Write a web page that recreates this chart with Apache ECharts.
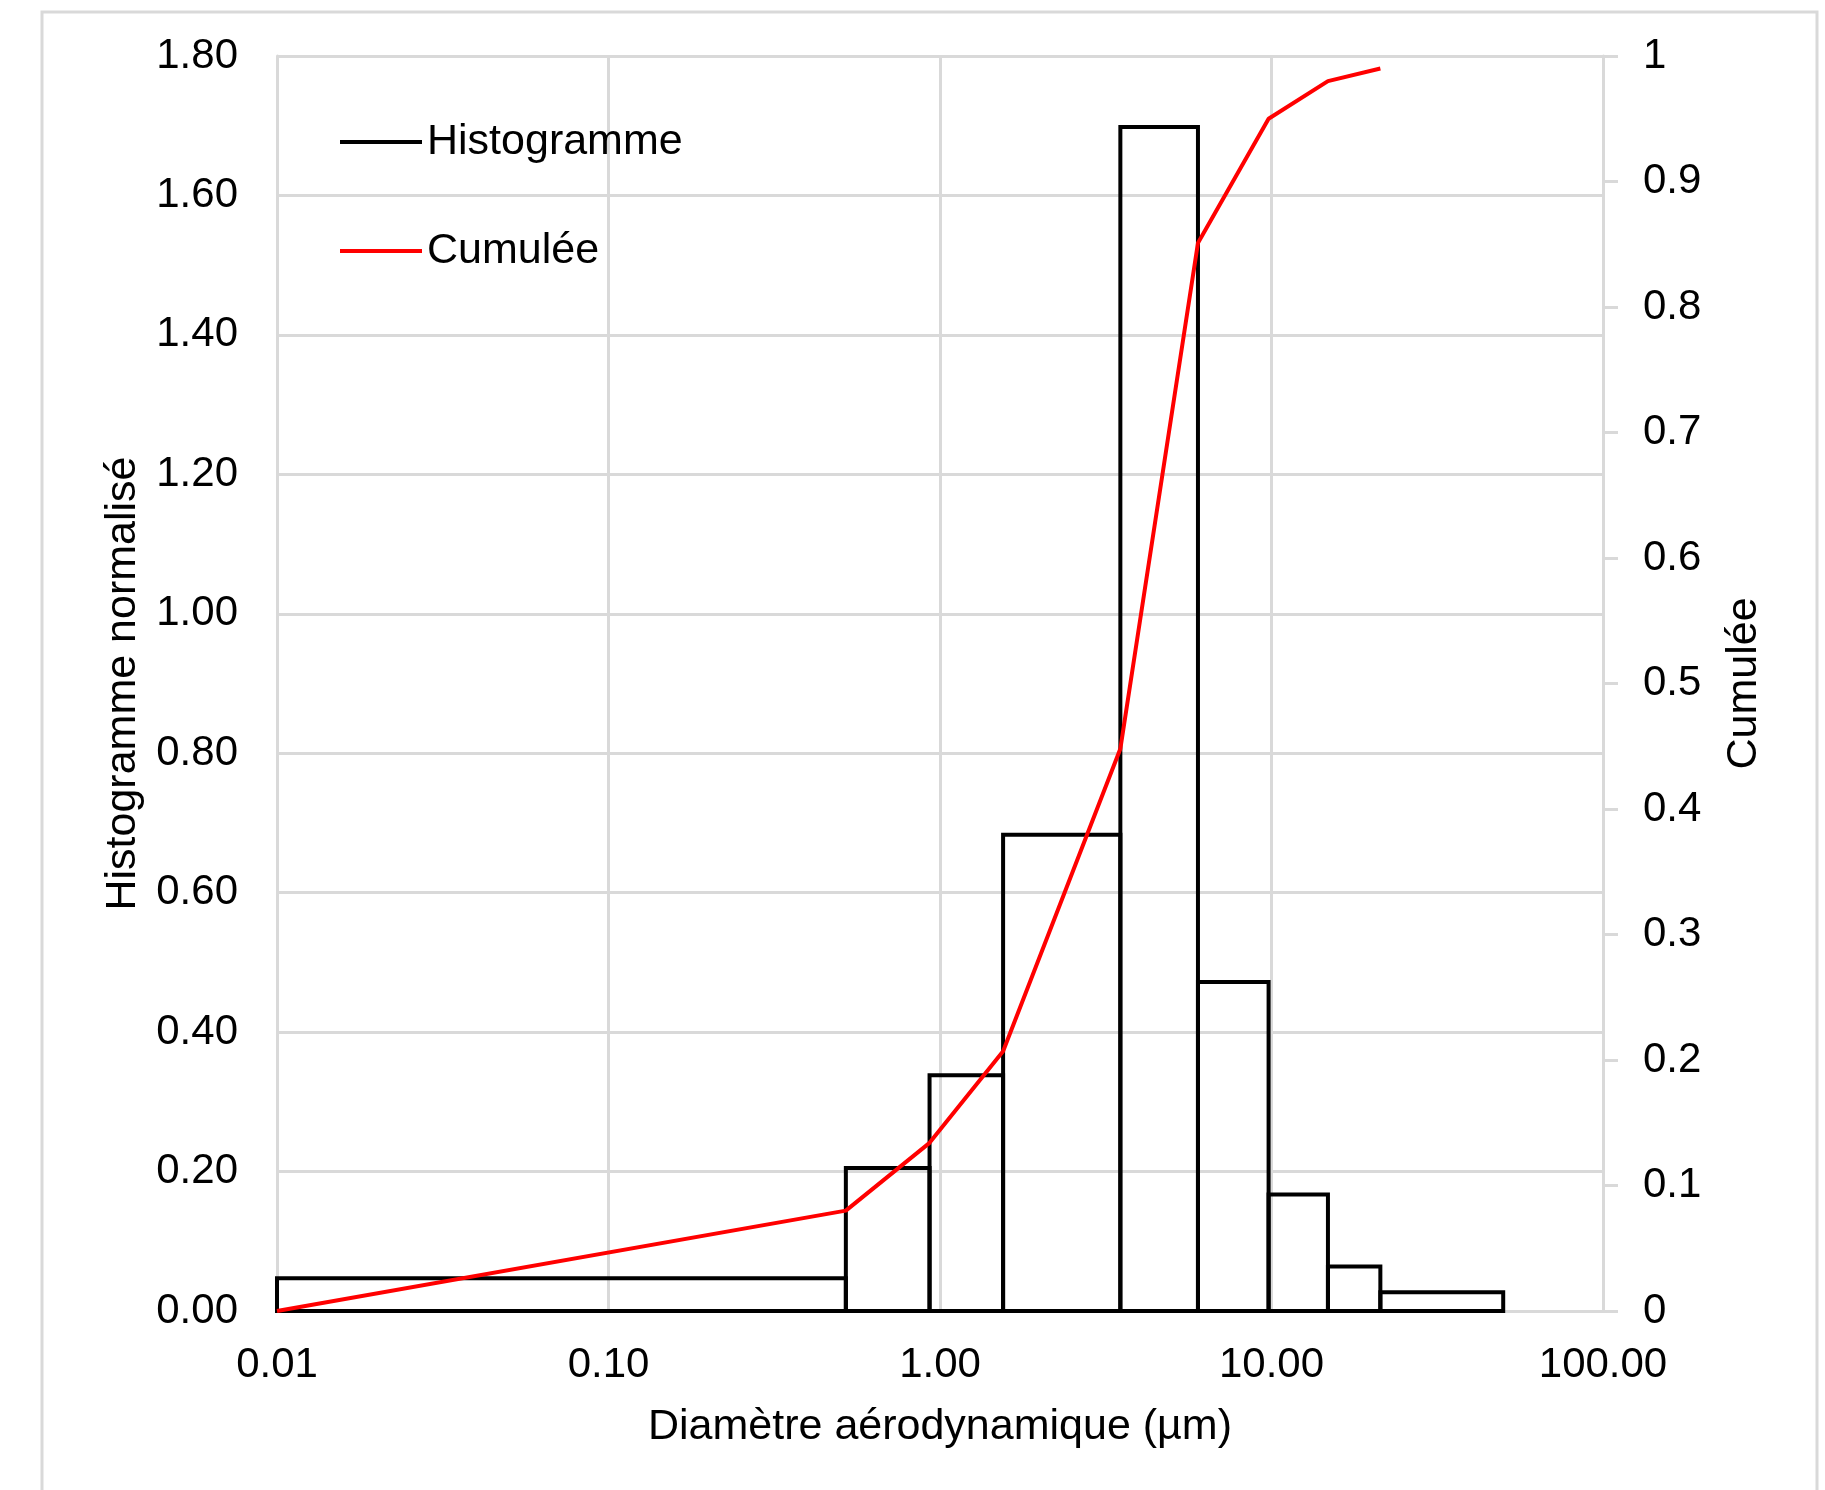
<!DOCTYPE html>
<html>
<head>
<meta charset="utf-8">
<title>Histogramme normalisé et cumulée</title>
<script src="https://cdn.jsdelivr.net/npm/echarts@6/dist/echarts.min.js"></script>
<style>
  html, body { margin: 0; padding: 0; background: #ffffff; }
  #chart { width: 1825px; height: 1490px; }
</style>
</head>
<body>
<div id="chart"></div>
<script>
// Impactor stage boundaries (µm) and normalised histogram height per stage
const binEdges = [0.01, 0.52, 0.93, 1.55, 3.5, 6.0, 9.8, 14.8, 21.3, 50];
const histValues = [0.047, 0.205, 0.338, 0.683, 1.698, 0.472, 0.167, 0.064, 0.027];

// Cumulative fraction at each stage boundary
const cumulSizes = [0.01, 0.52, 0.93, 1.55, 3.5, 6.0, 9.8, 14.8, 21.3];
const cumulValues = [0, 0.080, 0.134, 0.207, 0.448, 0.851, 0.950, 0.980, 0.990];

// Axis tick values
const xTicks = [0.01, 0.1, 1, 10, 100];
const leftTicks = [0, 0.2, 0.4, 0.6, 0.8, 1.0, 1.2, 1.4, 1.6, 1.8];
const rightTicks = [0, 0.1, 0.2, 0.3, 0.4, 0.5, 0.6, 0.7, 0.8, 0.9, 1];

const FONT = "'Liberation Sans', Arial, sans-serif";
const GRID = '#d9d9d9';
const TXT = '#000000';

const histData = histValues.map((h, i) => [binEdges[i], binEdges[i + 1], h]);
const cumulData = cumulSizes.map((x, i) => [x, cumulValues[i]]);

const chart = echarts.init(document.getElementById('chart'), null, { renderer: 'canvas' });

chart.setOption({
  animation: false,
  backgroundColor: '#ffffff',
  textStyle: { fontFamily: FONT },
  graphic: [{
    type: 'rect',
    silent: true,
    z: -10,
    shape: { x: 42, y: 12, width: 1775, height: 1520 },
    style: { fill: 'none', stroke: GRID, lineWidth: 3 }
  }],
  grid: { left: 277, right: 222, top: 56, bottom: 179, containLabel: false },
  legend: {
    orient: 'vertical',
    left: 335,
    top: 112,
    itemWidth: 82,
    itemHeight: 4,
    itemGap: 59,
    selectedMode: false,
    textStyle: { fontSize: 43, color: TXT, fontFamily: FONT, lineHeight: 50 },
    data: [
      { name: 'Histogramme', icon: 'rect', itemStyle: { color: '#000000' } },
      { name: 'Cumulée', icon: 'rect', itemStyle: { color: '#ff0000' } }
    ]
  },
  xAxis: {
    type: 'log',
    logBase: 10,
    min: xTicks[0],
    max: xTicks[xTicks.length - 1],
    axisLine: { show: true, lineStyle: { color: GRID, width: 3 } },
    axisTick: { show: false },
    splitLine: { show: true, lineStyle: { color: GRID, width: 3 } },
    axisLabel: {
      margin: 33,
      fontSize: 42,
      color: TXT,
      fontFamily: FONT,
      formatter: v => Number(v).toFixed(2)
    },
    name: 'Diamètre aérodynamique (µm)',
    nameLocation: 'middle',
    nameGap: 95,
    nameTextStyle: { fontSize: 43, color: TXT, fontFamily: FONT }
  },
  yAxis: [{
    type: 'value',
    min: leftTicks[0],
    max: leftTicks[leftTicks.length - 1],
    interval: 0.2,
    position: 'left',
    axisLine: { show: true, lineStyle: { color: GRID, width: 3 } },
    axisTick: { show: false },
    splitLine: { show: true, lineStyle: { color: GRID, width: 3 } },
    axisLabel: {
      margin: 39,
      fontSize: 42,
      color: TXT,
      fontFamily: FONT,
      formatter: v => Number(v).toFixed(2)
    },
    name: 'Histogramme normalisé',
    nameLocation: 'middle',
    nameGap: 132,
    nameTextStyle: { fontSize: 43, color: TXT, fontFamily: FONT }
  }, {
    type: 'value',
    min: rightTicks[0],
    max: rightTicks[rightTicks.length - 1],
    interval: 0.1,
    position: 'right',
    axisLine: { show: true, lineStyle: { color: GRID, width: 3 } },
    axisTick: { show: true, length: 15, lineStyle: { color: GRID, width: 3 } },
    splitLine: { show: false },
    axisLabel: {
      margin: 40,
      fontSize: 42,
      color: TXT,
      fontFamily: FONT,
      formatter: v => (v === 0 || v === 1) ? String(v) : Number(v).toFixed(1)
    },
    name: 'Cumulée',
    nameLocation: 'middle',
    nameGap: 120,
    nameRotate: 90,
    nameTextStyle: { fontSize: 43, color: TXT, fontFamily: FONT }
  }],
  series: [{
    name: 'Histogramme',
    type: 'custom',
    xAxisIndex: 0,
    yAxisIndex: 0,
    z: 2,
    itemStyle: { color: '#000000' },
    encode: { x: [0, 1], y: 2 },
    data: histData,
    renderItem: function (params, api) {
      const p0 = api.coord([api.value(0), 0]);
      const p1 = api.coord([api.value(1), api.value(2)]);
      return {
        type: 'rect',
        shape: { x: p0[0], y: p1[1], width: p1[0] - p0[0], height: p0[1] - p1[1] },
        style: { fill: 'none', stroke: '#000000', lineWidth: 4 }
      };
    }
  }, {
    name: 'Cumulée',
    type: 'line',
    xAxisIndex: 0,
    yAxisIndex: 1,
    z: 3,
    data: cumulData,
    showSymbol: false,
    symbol: 'none',
    lineStyle: { color: '#ff0000', width: 4 },
    itemStyle: { color: '#ff0000' }
  }]
});
</script>
</body>
</html>
